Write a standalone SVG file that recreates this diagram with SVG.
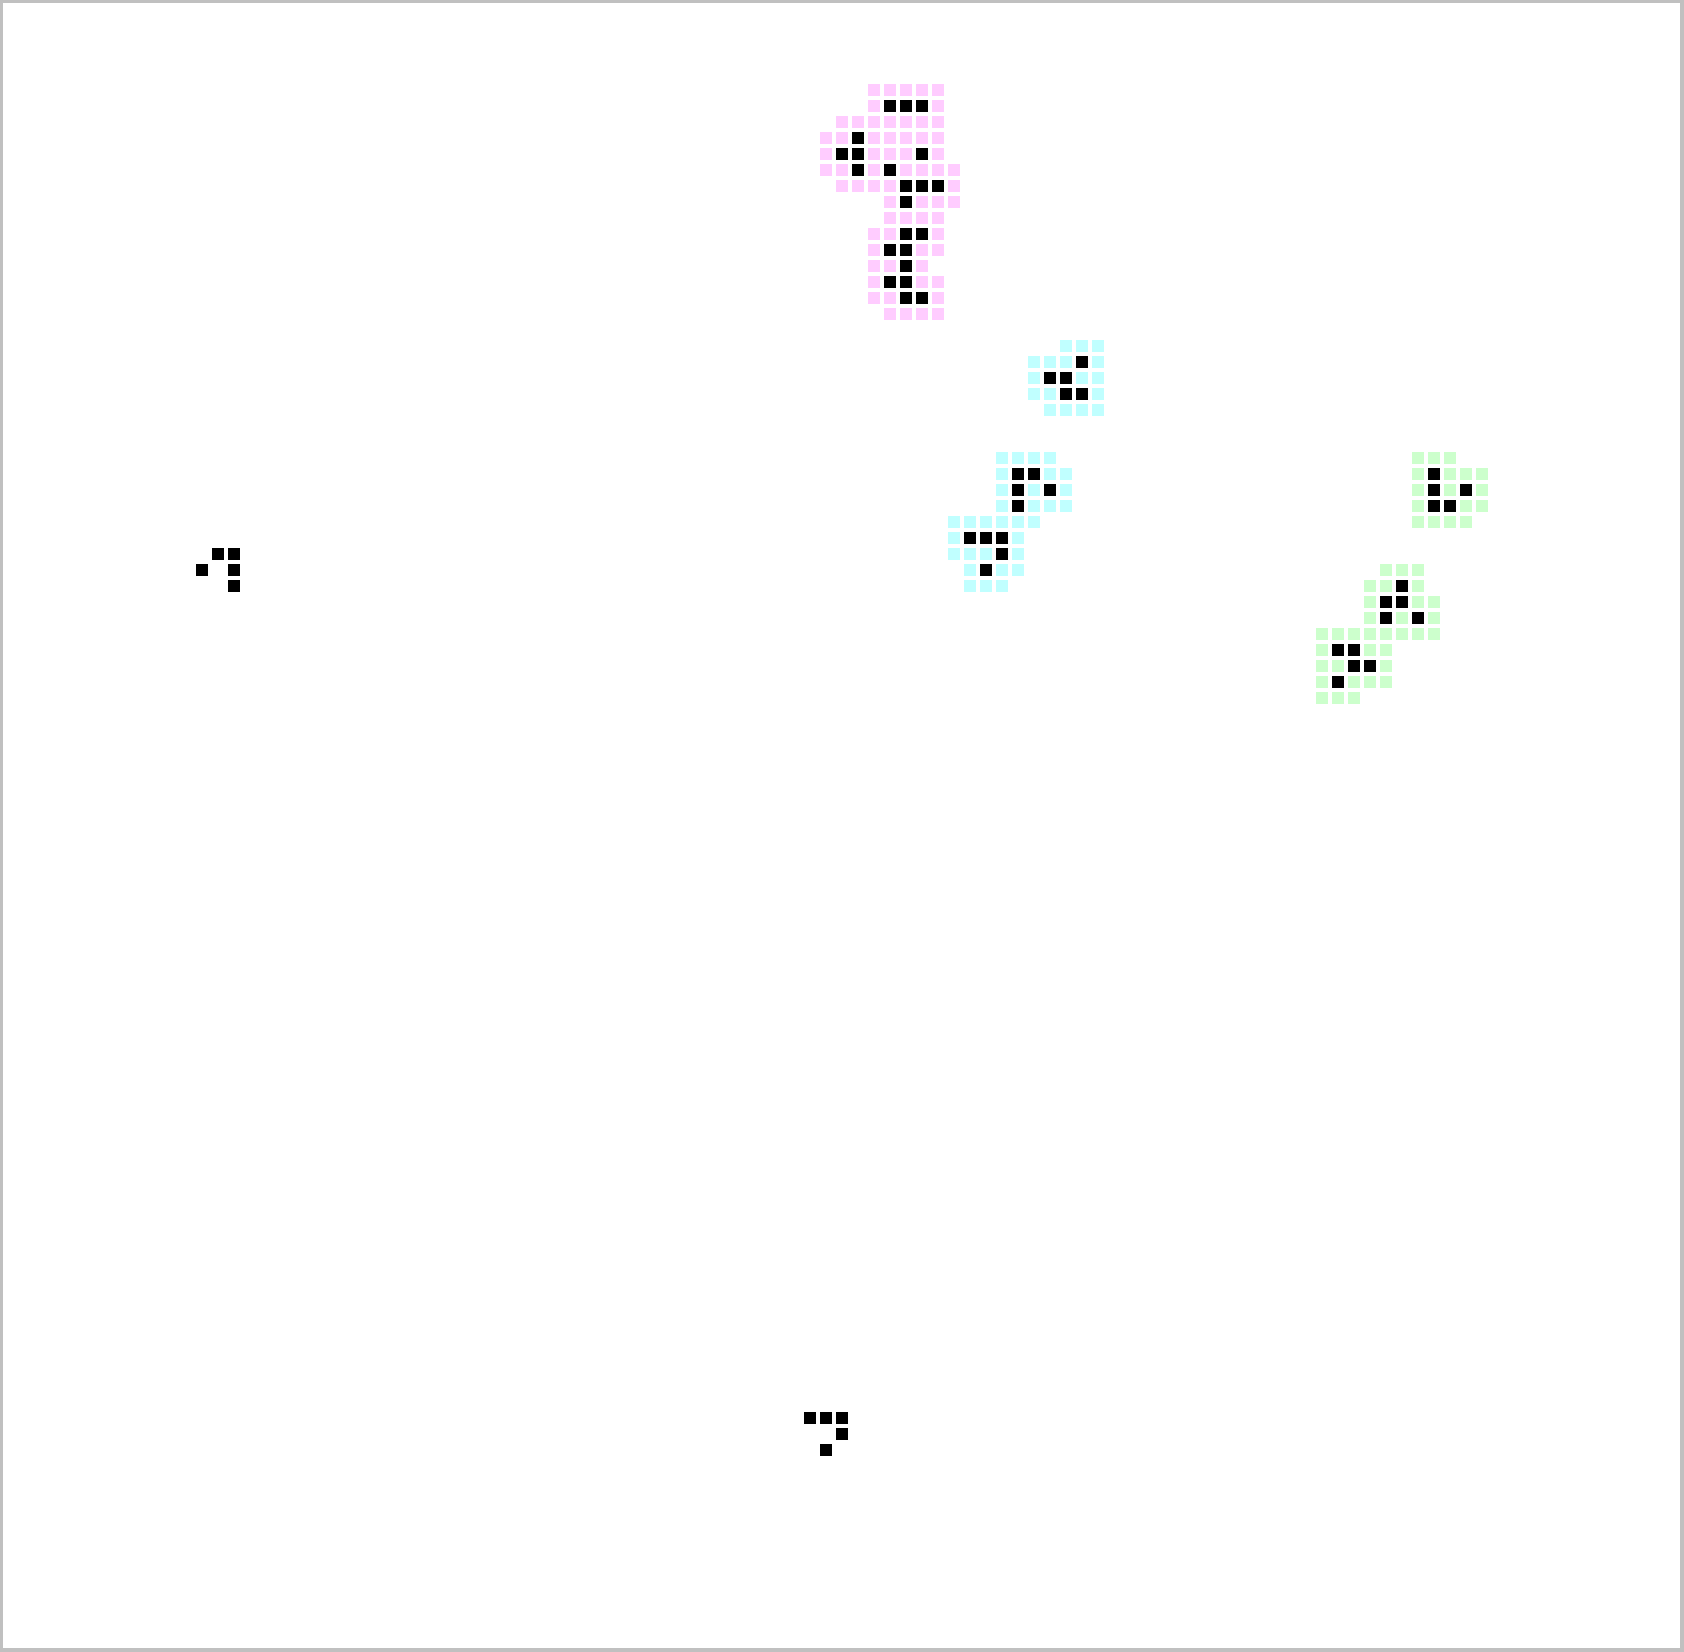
<svg xmlns="http://www.w3.org/2000/svg" width="1684" height="1652" viewBox="0 0 1684 1652">
<style>
.p{fill:#ffccff}.c{fill:#c0ffff}.g{fill:#ccffcc}.b{fill:#000000}
</style>
<defs>
<rect id="s" width="12" height="12"/>
</defs>
<rect x="0" y="0" width="1684" height="1652" fill="#c0c0c0"/>
<rect x="3" y="3" width="1677" height="1645" fill="#ffffff"/>
<g id="pattern-pink">
<g class="p">
<use href="#s" x="868" y="84"/><use href="#s" x="884" y="84"/><use href="#s" x="900" y="84"/><use href="#s" x="916" y="84"/><use href="#s" x="932" y="84"/>
<use href="#s" x="868" y="100"/><use href="#s" x="932" y="100"/>
<use href="#s" x="836" y="116"/><use href="#s" x="852" y="116"/><use href="#s" x="868" y="116"/><use href="#s" x="884" y="116"/><use href="#s" x="900" y="116"/><use href="#s" x="916" y="116"/><use href="#s" x="932" y="116"/>
<use href="#s" x="820" y="132"/><use href="#s" x="836" y="132"/><use href="#s" x="868" y="132"/><use href="#s" x="884" y="132"/><use href="#s" x="900" y="132"/><use href="#s" x="916" y="132"/><use href="#s" x="932" y="132"/>
<use href="#s" x="820" y="148"/><use href="#s" x="868" y="148"/><use href="#s" x="884" y="148"/><use href="#s" x="900" y="148"/><use href="#s" x="932" y="148"/>
<use href="#s" x="820" y="164"/><use href="#s" x="836" y="164"/><use href="#s" x="868" y="164"/><use href="#s" x="900" y="164"/><use href="#s" x="916" y="164"/><use href="#s" x="932" y="164"/><use href="#s" x="948" y="164"/>
<use href="#s" x="836" y="180"/><use href="#s" x="852" y="180"/><use href="#s" x="868" y="180"/><use href="#s" x="884" y="180"/><use href="#s" x="948" y="180"/>
<use href="#s" x="884" y="196"/><use href="#s" x="916" y="196"/><use href="#s" x="932" y="196"/><use href="#s" x="948" y="196"/>
<use href="#s" x="884" y="212"/><use href="#s" x="900" y="212"/><use href="#s" x="916" y="212"/><use href="#s" x="932" y="212"/>
<use href="#s" x="868" y="228"/><use href="#s" x="884" y="228"/><use href="#s" x="932" y="228"/>
<use href="#s" x="868" y="244"/><use href="#s" x="916" y="244"/><use href="#s" x="932" y="244"/>
<use href="#s" x="868" y="260"/><use href="#s" x="884" y="260"/><use href="#s" x="916" y="260"/>
<use href="#s" x="868" y="276"/><use href="#s" x="916" y="276"/><use href="#s" x="932" y="276"/>
<use href="#s" x="868" y="292"/><use href="#s" x="884" y="292"/><use href="#s" x="932" y="292"/>
<use href="#s" x="884" y="308"/><use href="#s" x="900" y="308"/><use href="#s" x="916" y="308"/><use href="#s" x="932" y="308"/>
</g>
<g class="b">
<use href="#s" x="884" y="100"/><use href="#s" x="900" y="100"/><use href="#s" x="916" y="100"/>
<use href="#s" x="852" y="132"/>
<use href="#s" x="836" y="148"/><use href="#s" x="852" y="148"/><use href="#s" x="916" y="148"/>
<use href="#s" x="852" y="164"/><use href="#s" x="884" y="164"/>
<use href="#s" x="900" y="180"/><use href="#s" x="916" y="180"/><use href="#s" x="932" y="180"/>
<use href="#s" x="900" y="196"/>
<use href="#s" x="900" y="228"/><use href="#s" x="916" y="228"/>
<use href="#s" x="884" y="244"/><use href="#s" x="900" y="244"/>
<use href="#s" x="900" y="260"/>
<use href="#s" x="884" y="276"/><use href="#s" x="900" y="276"/>
<use href="#s" x="900" y="292"/><use href="#s" x="916" y="292"/>
</g>
</g>
<g id="pattern-cyan-top">
<g class="c">
<use href="#s" x="1060" y="340"/><use href="#s" x="1076" y="340"/><use href="#s" x="1092" y="340"/>
<use href="#s" x="1028" y="356"/><use href="#s" x="1044" y="356"/><use href="#s" x="1060" y="356"/><use href="#s" x="1092" y="356"/>
<use href="#s" x="1028" y="372"/><use href="#s" x="1076" y="372"/><use href="#s" x="1092" y="372"/>
<use href="#s" x="1028" y="388"/><use href="#s" x="1044" y="388"/><use href="#s" x="1092" y="388"/>
<use href="#s" x="1044" y="404"/><use href="#s" x="1060" y="404"/><use href="#s" x="1076" y="404"/><use href="#s" x="1092" y="404"/>
</g>
<g class="b">
<use href="#s" x="1076" y="356"/>
<use href="#s" x="1044" y="372"/><use href="#s" x="1060" y="372"/>
<use href="#s" x="1060" y="388"/><use href="#s" x="1076" y="388"/>
</g>
</g>
<g id="pattern-cyan-bottom">
<g class="c">
<use href="#s" x="996" y="452"/><use href="#s" x="1012" y="452"/><use href="#s" x="1028" y="452"/><use href="#s" x="1044" y="452"/>
<use href="#s" x="996" y="468"/><use href="#s" x="1044" y="468"/><use href="#s" x="1060" y="468"/>
<use href="#s" x="996" y="484"/><use href="#s" x="1028" y="484"/><use href="#s" x="1060" y="484"/>
<use href="#s" x="996" y="500"/><use href="#s" x="1028" y="500"/><use href="#s" x="1044" y="500"/><use href="#s" x="1060" y="500"/>
<use href="#s" x="948" y="516"/><use href="#s" x="964" y="516"/><use href="#s" x="980" y="516"/><use href="#s" x="996" y="516"/><use href="#s" x="1012" y="516"/><use href="#s" x="1028" y="516"/>
<use href="#s" x="948" y="532"/><use href="#s" x="1012" y="532"/>
<use href="#s" x="948" y="548"/><use href="#s" x="964" y="548"/><use href="#s" x="980" y="548"/><use href="#s" x="1012" y="548"/>
<use href="#s" x="964" y="564"/><use href="#s" x="996" y="564"/><use href="#s" x="1012" y="564"/>
<use href="#s" x="964" y="580"/><use href="#s" x="980" y="580"/><use href="#s" x="996" y="580"/>
</g>
<g class="b">
<use href="#s" x="1012" y="468"/><use href="#s" x="1028" y="468"/>
<use href="#s" x="1012" y="484"/><use href="#s" x="1044" y="484"/>
<use href="#s" x="1012" y="500"/>
<use href="#s" x="964" y="532"/><use href="#s" x="980" y="532"/><use href="#s" x="996" y="532"/>
<use href="#s" x="996" y="548"/>
<use href="#s" x="980" y="564"/>
</g>
</g>
<g id="pattern-green-top">
<g class="g">
<use href="#s" x="1412" y="452"/><use href="#s" x="1428" y="452"/><use href="#s" x="1444" y="452"/>
<use href="#s" x="1412" y="468"/><use href="#s" x="1444" y="468"/><use href="#s" x="1460" y="468"/><use href="#s" x="1476" y="468"/>
<use href="#s" x="1412" y="484"/><use href="#s" x="1444" y="484"/><use href="#s" x="1476" y="484"/>
<use href="#s" x="1412" y="500"/><use href="#s" x="1460" y="500"/><use href="#s" x="1476" y="500"/>
<use href="#s" x="1412" y="516"/><use href="#s" x="1428" y="516"/><use href="#s" x="1444" y="516"/><use href="#s" x="1460" y="516"/>
</g>
<g class="b">
<use href="#s" x="1428" y="468"/>
<use href="#s" x="1428" y="484"/><use href="#s" x="1460" y="484"/>
<use href="#s" x="1428" y="500"/><use href="#s" x="1444" y="500"/>
</g>
</g>
<g id="pattern-green-bottom">
<g class="g">
<use href="#s" x="1380" y="564"/><use href="#s" x="1396" y="564"/><use href="#s" x="1412" y="564"/>
<use href="#s" x="1364" y="580"/><use href="#s" x="1380" y="580"/><use href="#s" x="1412" y="580"/>
<use href="#s" x="1364" y="596"/><use href="#s" x="1412" y="596"/><use href="#s" x="1428" y="596"/>
<use href="#s" x="1364" y="612"/><use href="#s" x="1396" y="612"/><use href="#s" x="1428" y="612"/>
<use href="#s" x="1316" y="628"/><use href="#s" x="1332" y="628"/><use href="#s" x="1348" y="628"/><use href="#s" x="1364" y="628"/><use href="#s" x="1380" y="628"/><use href="#s" x="1396" y="628"/><use href="#s" x="1412" y="628"/><use href="#s" x="1428" y="628"/>
<use href="#s" x="1316" y="644"/><use href="#s" x="1364" y="644"/><use href="#s" x="1380" y="644"/>
<use href="#s" x="1316" y="660"/><use href="#s" x="1332" y="660"/><use href="#s" x="1380" y="660"/>
<use href="#s" x="1316" y="676"/><use href="#s" x="1348" y="676"/><use href="#s" x="1364" y="676"/><use href="#s" x="1380" y="676"/>
<use href="#s" x="1316" y="692"/><use href="#s" x="1332" y="692"/><use href="#s" x="1348" y="692"/>
</g>
<g class="b">
<use href="#s" x="1396" y="580"/>
<use href="#s" x="1380" y="596"/><use href="#s" x="1396" y="596"/>
<use href="#s" x="1380" y="612"/><use href="#s" x="1412" y="612"/>
<use href="#s" x="1332" y="644"/><use href="#s" x="1348" y="644"/>
<use href="#s" x="1348" y="660"/><use href="#s" x="1364" y="660"/>
<use href="#s" x="1332" y="676"/>
</g>
</g>
<g id="glider-left" class="b">
<use href="#s" x="212" y="548"/><use href="#s" x="228" y="548"/>
<use href="#s" x="196" y="564"/><use href="#s" x="228" y="564"/>
<use href="#s" x="228" y="580"/>
</g>
<g id="glider-bottom" class="b">
<use href="#s" x="804" y="1412"/><use href="#s" x="820" y="1412"/><use href="#s" x="836" y="1412"/>
<use href="#s" x="836" y="1428"/>
<use href="#s" x="820" y="1444"/>
</g>
<g id="connectors"></g>
</svg>
